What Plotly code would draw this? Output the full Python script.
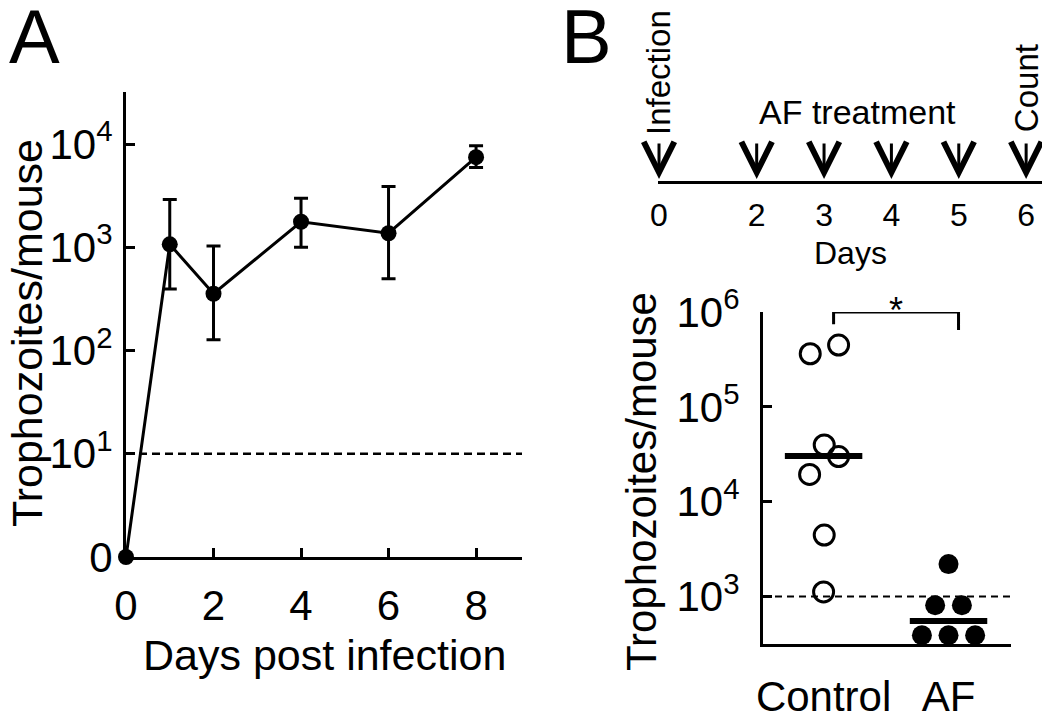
import plotly.graph_objects as go

# ---------------- data ----------------
# Panel A: trophozoites per mouse over days post infection (0 is drawn at the axis floor)
days_a = [0, 1, 2, 4, 6, 8]
mean_a = [0, 1070, 355, 1770, 1370, 7470]
upper_a = [None, 2900, 1030, 2990, 3880, 9620]
lower_a = [None, 394, 127, 1000, 497, 5930]
detect_a = 10
ytick_vals_a = [1, 10, 100, 1000, 10000]
ytick_text_a = ["0", "10<sup>1</sup>", "10<sup>2</sup>", "10<sup>3</sup>", "10<sup>4</sup>"]
xtick_vals_a = [0, 2, 4, 6, 8]

# Panel B: trophozoites per mouse at day 6, Control vs AF
groups_b = ["Control", "AF"]
control_vals = [363000, 448000, 39700, 29900, 19400, 4450, 1120]
af_vals = [2200, 809, 809, 391, 391, 391]
medians_b = [30300, 553]
detect_b = 1000
ytick_vals_b = [1e3, 1e4, 1e5, 1e6]
ytick_text_b = ["10<sup>3</sup>", "10<sup>4</sup>", "10<sup>5</sup>", "10<sup>6</sup>"]
signif_label = "*"

# Panel B timeline
timeline_days = ["0", "2", "3", "4", "5", "6"]
start_label = "Infection"
treatment_label = "AF treatment"
end_label = "Count"

# ---------------- layout helpers (positions / styles) ----------------
control_jitter = [-0.107, 0.12, 0.005, 0.12, -0.112, 0.005, 0.0]
af_jitter = [0.0, -0.107, 0.107, -0.213, 0.0, 0.213]
timeline_pos = [0, 1.45, 2.45, 3.45, 4.45, 5.45]   # schematic spacing of the timeline
median_half = 0.31
bracket_offset = 0.08
bracket_drop = [10 ** 5.87, 10 ** 5.81]

PAGE_OFF = 8                 # default page margin around the plot div
W, H = 1050 - PAGE_OFF, 715 - PAGE_OFF
FONT = "Liberation Sans, Arial, sans-serif"
BLACK = "#000000"


def px(x):
    """page pixel x -> paper coordinate"""
    return (x - PAGE_OFF) / W


def py(y):
    """page pixel y -> paper coordinate"""
    return 1 - (y - PAGE_OFF) / H


fig = go.Figure()

# ---- Panel A ----
xr_a = [0, 9.05]
fig.add_trace(go.Scatter(
    x=xr_a, y=[detect_a, detect_a], mode="lines",
    line=dict(color=BLACK, width=2.5, dash="8px,5px"),
    xaxis="x", yaxis="y", showlegend=False, hoverinfo="skip"))

plot_mean_a = [m if m > 0 else ytick_vals_a[0] for m in mean_a]
err_plus = [(u - m) if u is not None else None for u, m in zip(upper_a, mean_a)]
err_minus = [(m - l) if l is not None else None for l, m in zip(lower_a, mean_a)]
fig.add_trace(go.Scatter(
    x=days_a, y=plot_mean_a, mode="lines+markers",
    line=dict(color=BLACK, width=3),
    marker=dict(color=BLACK, size=16),
    error_y=dict(type="data", symmetric=False, array=err_plus, arrayminus=err_minus,
                 color=BLACK, thickness=3, width=7),
    cliponaxis=False, xaxis="x", yaxis="y", showlegend=False))

# ---- Panel B scatter ----
xr_b = [-0.485, 1.5]
fig.add_trace(go.Scatter(
    x=xr_b, y=[detect_b, detect_b], mode="lines",
    line=dict(color=BLACK, width=2, dash="7px,5px"),
    xaxis="x2", yaxis="y2", showlegend=False, hoverinfo="skip"))

fig.add_trace(go.Scatter(
    x=[0 + j for j in control_jitter], y=control_vals, mode="markers",
    marker=dict(symbol="circle-open", size=20, color=BLACK, line=dict(width=3, color=BLACK)),
    cliponaxis=False, xaxis="x2", yaxis="y2", showlegend=False))
fig.add_trace(go.Scatter(
    x=[1 + j for j in af_jitter], y=af_vals, mode="markers",
    marker=dict(symbol="circle", size=20, color=BLACK),
    cliponaxis=False, xaxis="x2", yaxis="y2", showlegend=False))

for i, med in enumerate(medians_b):
    fig.add_trace(go.Scatter(
        x=[i - median_half, i + median_half], y=[med, med], mode="lines",
        line=dict(color=BLACK, width=6),
        xaxis="x2", yaxis="y2", showlegend=False, hoverinfo="skip"))

# significance bracket
top_b = ytick_vals_b[-1]
fig.add_trace(go.Scatter(
    x=[0 + bracket_offset, 0 + bracket_offset, 1 + bracket_offset, 1 + bracket_offset],
    y=[bracket_drop[0], top_b, top_b, bracket_drop[1]], mode="lines",
    line=dict(color=BLACK, width=3), cliponaxis=False,
    xaxis="x2", yaxis="y2", showlegend=False, hoverinfo="skip"))

# ---- timeline (drawn on its own axis) ----
fig.add_trace(go.Scatter(
    x=timeline_pos, y=[0] * len(timeline_pos), mode="markers",
    marker=dict(size=1, color="rgba(0,0,0,0)"),
    xaxis="x3", yaxis="y3", showlegend=False, hoverinfo="skip"))

axis_common = dict(showline=True, linecolor=BLACK, linewidth=3, showgrid=False,
                   zeroline=False, mirror=False, automargin=False)

fig.update_layout(
    template="none",
    width=W, height=H,
    margin=dict(l=0, r=0, t=0, b=0, pad=0),
    paper_bgcolor="white", plot_bgcolor="white",
    font=dict(family=FONT, color=BLACK),
    xaxis=dict(domain=[px(126), px(522)], range=xr_a, anchor="y",
               tickvals=xtick_vals_a, ticks="inside", ticklen=9, tickwidth=3,
               tickcolor=BLACK, tickfont=dict(size=42, family=FONT),
               ticklabelstandoff=10, **axis_common),
    yaxis=dict(domain=[py(557), py(92)], type="log", range=[0, 4.505], anchor="x",
               tickvals=ytick_vals_a, ticktext=ytick_text_a, ticks="inside",
               ticklen=9, tickwidth=3, tickcolor=BLACK,
               tickfont=dict(size=42, family=FONT), ticklabelstandoff=2, **axis_common),
    xaxis2=dict(domain=[px(763), px(1011)], range=xr_b, anchor="y2",
                tickvals=[0, 1], ticktext=groups_b, ticks="",
                tickfont=dict(size=42, family=FONT), ticklabelstandoff=14, **axis_common),
    yaxis2=dict(domain=[py(644), py(312)], type="log", range=[2.5, 6], anchor="x2",
                tickvals=ytick_vals_b, ticktext=ytick_text_b, ticks="inside",
                ticklen=9, tickwidth=3, tickcolor=BLACK,
                tickfont=dict(size=42, family=FONT), ticklabelstandoff=12, **axis_common),
    xaxis3=dict(domain=[px(658), px(1045)], range=[-0.015, 5.73], anchor="y3",
                tickvals=timeline_pos, ticktext=timeline_days, ticks="",
                tickfont=dict(size=32, family=FONT), ticklabelstandoff=4, **axis_common),
    yaxis3=dict(domain=[py(181), py(10)], range=[0, 1], anchor="x3", visible=False),
)


def label(text, x, y, size, angle=0, xref="paper"):
    return dict(text=text, x=x, y=y, xref=xref, yref="paper", xanchor="center",
                yanchor="middle", textangle=angle, showarrow=False,
                font=dict(size=size, family=FONT, color=BLACK))


ann = []
ann.append(label("A", px(34), py(37), 76))
ann.append(label("B", px(586), py(36), 76))
ann.append(label("Trophozoites/mouse", px(27), py(333), 43, angle=-90))
ann.append(label("Days post infection", px(324), py(655), 43))
ann.append(label("Trophozoites/mouse", px(642), py(482), 42, angle=-90))
ann.append(label("Days", px(850), py(253), 32))
ann.append(label(signif_label, 0.5 + bracket_offset, py(310), 36, xref="x2"))
# timeline arrows
for p in timeline_pos:
    ann.append(dict(text="", x=p, y=py(179), xref="x3", yref="paper",
                    ax=0, ay=-37, axref="pixel", ayref="pixel",
                    showarrow=True, arrowhead=5, arrowsize=2.0, arrowwidth=3,
                    arrowcolor=BLACK, standoff=0))
ann.append(label(start_label, timeline_pos[0], py(73), 33, angle=-90, xref="x3"))
ann.append(label(end_label, timeline_pos[-1], py(88), 33, angle=-90, xref="x3"))
treat_center = sum(timeline_pos[1:-1]) / len(timeline_pos[1:-1])
ann.append(label(treatment_label, treat_center, py(112), 34, xref="x3"))

fig.update_layout(annotations=ann)

fig.write_html("out.html")
